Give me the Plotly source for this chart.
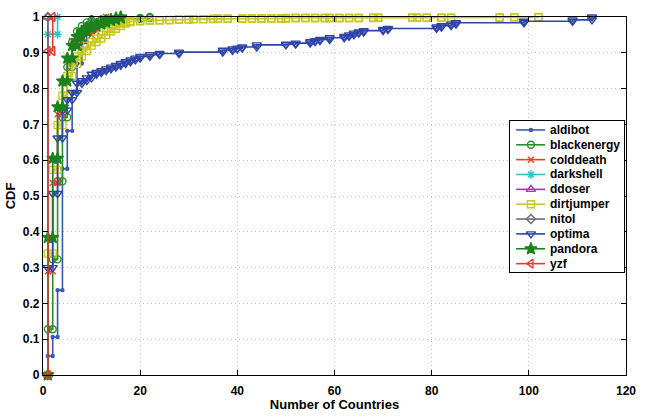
import plotly.graph_objects as go

# ---- data (x = number of countries, F = CDF value at that x) ----
aldibot_x = [1, 2, 3, 4, 5, 6, 7, 8, 9, 10]
aldibot_f = [0.053, 0.106, 0.237, 0.576, 0.682, 0.79, 0.87, 0.93, 0.97, 1.0]

blackenergy_x = [1, 2, 3, 4, 5, 6, 7, 8, 9, 10, 12, 15, 20, 22]
blackenergy_f = [0.128, 0.323, 0.541, 0.72, 0.86, 0.93, 0.96, 0.975, 0.985, 0.99, 0.993, 0.995, 0.997, 1.0]

colddeath_x = [1, 2, 3, 4, 5, 6, 8, 10, 11, 13]
colddeath_f = [0.29, 0.536, 0.728, 0.82, 0.88, 0.933, 0.95, 0.96, 0.975, 1.0]

darkshell_x = [1, 3]
darkshell_f = [0.952, 1.0]

ddoser_x = [1]
ddoser_f = [1.0]

dirtjumper_x = [1, 2, 3, 4, 5, 6, 7, 8, 9, 10, 11, 12, 13, 14, 15, 16, 17, 18, 20, 22, 24, 26,
                28, 30, 31, 33, 35, 36, 38, 41, 43, 45, 47, 49, 50, 52, 54, 56, 58, 59, 61, 63,
                65, 68, 69, 76, 77, 79, 82, 84, 94, 97, 102]
dirtjumper_f = [0.339, 0.573, 0.698, 0.78, 0.835, 0.869, 0.89, 0.905, 0.92, 0.93, 0.94, 0.95,
                0.96, 0.967, 0.975, 0.982, 0.986, 0.988, 0.99, 0.991, 0.991, 0.992,
                0.993, 0.994, 0.994, 0.994, 0.995, 0.995, 0.995, 0.996, 0.996, 0.996, 0.996,
                0.996, 0.997, 0.997, 0.997, 0.997, 0.997, 0.997, 0.997, 0.997, 0.997, 0.998,
                0.998, 0.998, 0.998, 0.998, 0.998, 0.998, 0.999, 0.999, 1.0]

nitol_x = [1]
nitol_f = [1.0]

optima_x = [1, 2, 3, 4, 5, 6, 7, 8, 9, 10, 11, 12, 13, 14, 15, 16, 17, 18, 19, 20, 22, 24, 28,
            37, 39, 40, 41, 44, 50, 52, 55, 56, 57, 59, 62, 63, 64, 65, 66, 70, 71, 81, 82, 84,
            85, 99, 109, 113]
optima_f = [0.3, 0.507, 0.662, 0.74, 0.769, 0.789, 0.815, 0.822, 0.83, 0.84, 0.845, 0.85, 0.855,
            0.86, 0.865, 0.87, 0.875, 0.88, 0.885, 0.89, 0.895, 0.898, 0.902,
            0.907, 0.911, 0.913, 0.916, 0.922, 0.924, 0.927, 0.931, 0.934, 0.937, 0.942, 0.946,
            0.95, 0.955, 0.958, 0.962, 0.965, 0.968, 0.972, 0.976, 0.98, 0.984, 0.988, 0.992, 1.0]

pandora_x = [1, 2, 3, 4, 5, 6, 7, 8, 9, 10, 11, 12, 13, 14, 15, 16]
pandora_f = [0.384, 0.605, 0.749, 0.821, 0.885, 0.92, 0.945, 0.96, 0.97, 0.975, 0.98, 0.985,
             0.99, 0.993, 0.997, 1.0]

yzf_x = [1, 2]
yzf_f = [0.905, 1.0]

x_ticks = [0, 20, 40, 60, 80, 100, 120]
y_ticks = [0, 0.1, 0.2, 0.3, 0.4, 0.5, 0.6, 0.7, 0.8, 0.9, 1]

series = [
    ("aldibot", aldibot_x, aldibot_f, "#3a56b8", "circle", 3),
    ("blackenergy", blackenergy_x, blackenergy_f, "#2a8f2a", "circle-open", 7),
    ("colddeath", colddeath_x, colddeath_f, "#ee3b30", "x-thin-open", 6),
    ("darkshell", darkshell_x, darkshell_f, "#2cc6c6", "asterisk-open", 7),
    ("ddoser", ddoser_x, ddoser_f, "#b82cb8", "triangle-up-open", 8),
    ("dirtjumper", dirtjumper_x, dirtjumper_f, "#c8c81c", "square-open", 7),
    ("nitol", nitol_x, nitol_f, "#707070", "diamond-open", 7),
    ("optima", optima_x, optima_f, "#2e44a8", "triangle-down-open", 8),
    ("pandora", pandora_x, pandora_f, "#1c821c", "star", 9),
    ("yzf", yzf_x, yzf_f, "#e23c2c", "triangle-left-open", 8),
]

FONT = "Liberation Sans"


def stairs(xv, fv):
    xs, ys = [xv[0]], [0.0]
    for i in range(len(xv)):
        xs.append(xv[i]); ys.append(fv[i])
        if i + 1 < len(xv):
            xs.append(xv[i + 1]); ys.append(fv[i])
    return xs, ys


fig = go.Figure()
for name, xv, fv, color, sym, size in series:
    xs, ys = stairs(xv, fv)
    fig.add_trace(go.Scatter(
        x=xs, y=ys, name=name, mode="lines+markers", showlegend=False,
        line=dict(color=color, width=1.6),
        marker=dict(symbol=sym, size=size, color=color, line=dict(color=color, width=1.4)),
        cliponaxis=False,
    ))

# ---- custom legend box (second, overlapping subplot in pixel units) ----
W, H = 646, 417
ML, MR, MT, MB = 42, 11, 10, 32
pw, ph = W - ML - MR, H - MT - MB
box_l, box_r, box_t, box_b = 517, 633, 119, 277
dom_x = [(box_l - ML) / pw, (box_r - ML) / pw]
dom_y = [(H - MB - box_b) / ph, (H - MB - box_t) / ph]
row0, row_step = 9.3, 15.56
line_x0, line_x1, mark_x, text_x = 6.3, 35.7, 21.3, 39

for i, (name, xv, fv, color, sym, size) in enumerate(series):
    yy = row0 + row_step * i
    fig.add_trace(go.Scatter(
        x=[line_x0, line_x1], y=[yy, yy], mode="lines", showlegend=False,
        line=dict(color=color, width=1.6), xaxis="x2", yaxis="y2", hoverinfo="skip"))
    fig.add_trace(go.Scatter(
        x=[mark_x], y=[yy], mode="markers", showlegend=False,
        marker=dict(symbol=sym, size=size, color=color, line=dict(color=color, width=1.4)),
        xaxis="x2", yaxis="y2", hoverinfo="skip"))
    fig.add_annotation(x=text_x, y=yy, xref="x2", yref="y2", text=name, showarrow=False,
                       xanchor="left", yanchor="middle",
                       font=dict(family=FONT, size=12, color="black", weight="bold"))

axis_common = dict(
    showline=True, linecolor="black", linewidth=1.2, mirror="ticks",
    ticks="inside", ticklen=5, tickcolor="black",
    showgrid=True, gridcolor="#bdbdbd", griddash="1px,3px", gridwidth=1,
    zeroline=False,
    tickfont=dict(family=FONT, size=12, color="black", weight="bold"),
)

fig.update_layout(
    width=W, height=H,
    margin=dict(l=ML, r=MR, t=MT, b=MB),
    paper_bgcolor="white", plot_bgcolor="white",
    showlegend=False,
    xaxis=dict(range=[0, 120], tickvals=x_ticks, ticktext=[str(v) for v in x_ticks],
               ticklabelstandoff=4,
               title=dict(text="Number of Countries", standoff=0,
                          font=dict(family=FONT, size=13, color="black", weight="bold")),
               **axis_common),
    yaxis=dict(range=[0, 1], tickvals=y_ticks, ticktext=[f"{v:g}" for v in y_ticks],
               title=dict(text="CDF", standoff=4,
                          font=dict(family=FONT, size=13, color="black", weight="bold")),
               **axis_common),
    xaxis2=dict(domain=dom_x, range=[0, box_r - box_l], anchor="y2",
                showline=True, mirror=True, linecolor="black", linewidth=1.2,
                showgrid=False, zeroline=False, showticklabels=False, ticks="",
                fixedrange=True),
    yaxis2=dict(domain=dom_y, range=[box_b - box_t, 0], anchor="x2",
                showline=True, mirror=True, linecolor="black", linewidth=1.2,
                showgrid=False, zeroline=False, showticklabels=False, ticks="",
                fixedrange=True),
)

fig.write_html("out.html")
